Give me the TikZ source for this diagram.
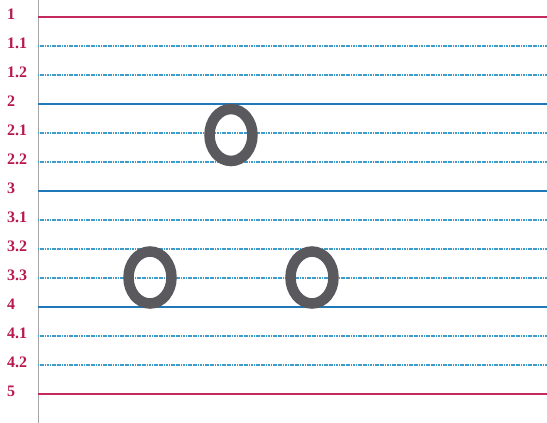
\documentclass[tikz,border=0pt]{standalone}
\usepackage{fontspec}
\setmainfont{Liberation Serif}
\definecolor{redline}{HTML}{C42A5C}
\definecolor{labelred}{HTML}{B8184F}
\definecolor{blueline}{HTML}{1F78B8}
\definecolor{thinblue}{HTML}{3E9CCB}
\definecolor{ringgray}{HTML}{5A5A5E}
\begin{document}
\begin{tikzpicture}[x=1pt,y=-1pt,
  lbl/.style={anchor=west,text=labelred,font=\bfseries\fontsize{16}{16}\selectfont,inner sep=0pt},
  redrule/.style={draw=redline,line width=1.6pt},
  bluerule/.style={draw=blueline,line width=1.8pt},
  thinrule/.style={draw=thinblue,line width=1.1pt,dash pattern=on 1.2pt off 0.5pt},
  ring/.style={draw=ringgray,line width=10.5pt,x radius=21.5,y radius=26}]
\useasboundingbox (0,0) rectangle (547,423);
\fill[white] (0,0) rectangle (547,423);
% margin line
\coordinate (mtop) at (38,0);
\coordinate (mbot) at (38,423);
\draw[draw=gray!70,line width=0.8pt] (mtop) -- (mbot);
% rules
\foreach \i/\t/\s in {0/1/redrule,1/1.1/thinrule,2/1.2/thinrule,3/2/bluerule,4/2.1/thinrule,5/2.2/thinrule,6/3/bluerule,7/3.1/thinrule,8/3.2/thinrule,9/3.3/thinrule,10/4/bluerule,11/4.1/thinrule,12/4.2/thinrule,13/5/redrule}{
  \pgfmathsetmacro{\yy}{17+29*\i}
  \coordinate (l\i) at (38,\yy);
  \coordinate (r\i) at (547,\yy);
  \draw[\s] (l\i) -- (r\i);
  \node[lbl] (t\i) at (7,\yy-3) {\t};
}
% rings
\draw[ring] (231,135) ellipse [];
\draw[ring] (150,277.5) ellipse [];
\draw[ring] (312,277.5) ellipse [];
\end{tikzpicture}
\end{document}
